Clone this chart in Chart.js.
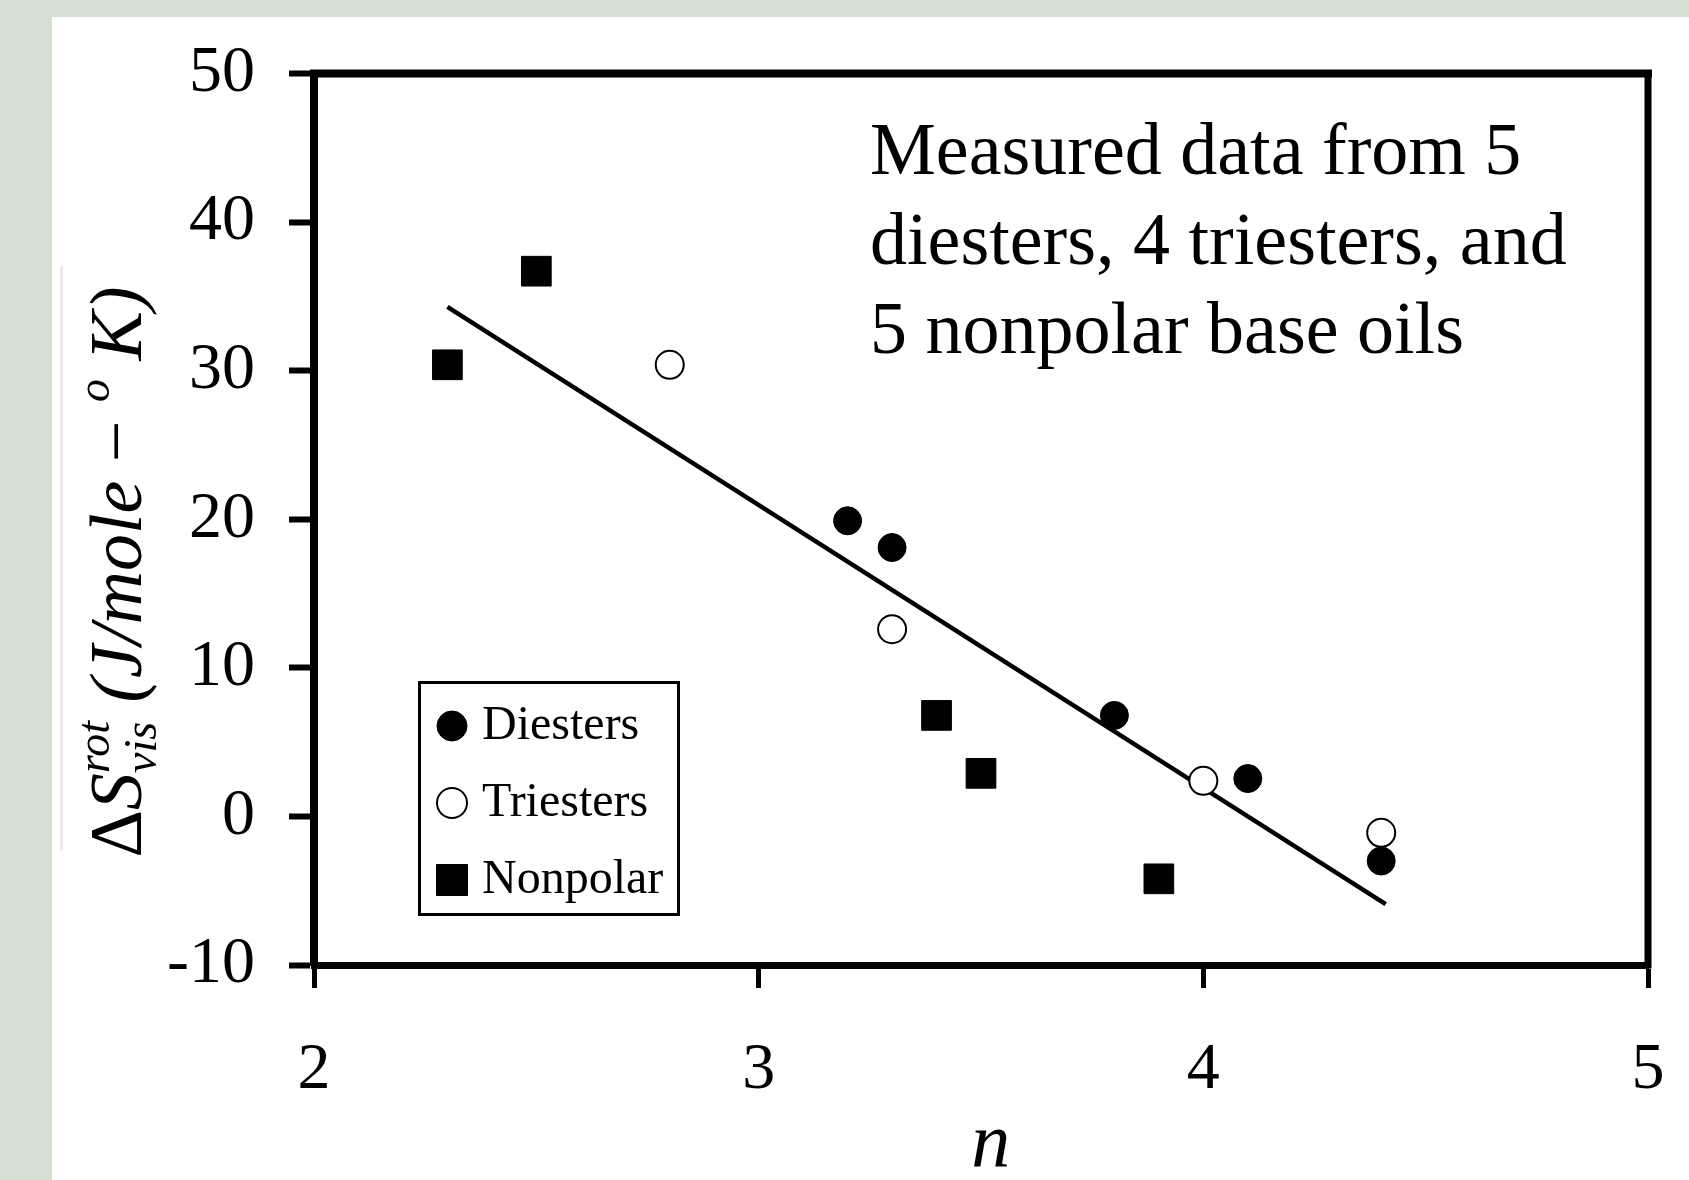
<!DOCTYPE html>
<html>
<head>
<meta charset="utf-8">
<script src="https://cdn.jsdelivr.net/npm/chart.js@4.4.1/dist/chart.umd.min.js"></script>
<style>
   html, body { margin: 0; padding: 0; background: #d6e0d2; }
   canvas { display: block; }
</style>
</head>
<body>
<canvas id="chart" width="1689" height="1180"></canvas>
<script>
// values
const diesterN = [3.2, 3.3, 3.8, 4.1, 4.4];
const diesterS = [19.9, 18.1, 6.8, 2.55, -3.0];
const triesterN = [2.8, 3.3, 4.0, 4.4];
const triesterS = [30.4, 12.6, 2.4, -1.1];
const nonpolarN = [2.3, 2.5, 3.4, 3.5, 3.9];
const nonpolarS = [30.4, 36.7, 6.8, 2.9, -4.2];
const fitN = [2.3, 4.41];
const fitS = [34.3, -5.9];

const seriesNames = ['Diesters', 'Triesters', 'Nonpolar'];
const xRange = [2, 5];
const yRange = [-10, 50];
const noteLines = ['Measured data from 5', 'diesters, 4 triesters, and', '5 nonpolar base oils'];

const SERIF = '"Liberation Serif", "Times New Roman", serif';

function toPoints(xs, ys) {
   return xs.map((x, i) => ({x: x, y: ys[i]}));
}

// green page, white slide panel
const backgroundPlugin = {
   id: 'background',
   beforeDraw(chart) {
      const ctx = chart.ctx;
      ctx.save();
      ctx.fillStyle = '#d6e0d2';
      ctx.fillRect(0, 0, chart.width, chart.height);
      ctx.fillStyle = '#ffffff';
      ctx.fillRect(52, 17, chart.width - 52, chart.height - 17);
      // faint leftover line from the source slide
      ctx.fillStyle = '#ececec';
      ctx.fillRect(60, 266, 3, 585);
      ctx.restore();
   }
};

// top and right sides of the plot box
const frameBox = {
   id: 'frameBox',
   afterDraw(chart) {
      const a = chart.chartArea;
      const ctx = chart.ctx;
      ctx.save();
      ctx.strokeStyle = '#000';
      ctx.lineCap = 'square';
      ctx.lineWidth = 8;
      ctx.beginPath();
      ctx.moveTo(a.left, a.top);
      ctx.lineTo(a.right, a.top);
      ctx.stroke();
      ctx.lineWidth = 7;
      ctx.beginPath();
      ctx.moveTo(a.right, a.top);
      ctx.lineTo(a.right, a.bottom);
      ctx.stroke();
      ctx.restore();
   }
};

// rotated y title with super/subscripts
const yTitle = {
   id: 'yTitle',
   afterDraw(chart) {
      const ctx = chart.ctx;
      const big = 74, small = 46;
      const parts = [
         {t: 'Δ', f: `${big}px ${SERIF}`, dy: 0},
         {t: 'S', f: `italic ${big}px ${SERIF}`, dy: 0},
         {t: 'rot', f: `italic ${small}px ${SERIF}`, dy: -32, under: {t: 'vis', dy: 15}},
         {t: ' (J/mole', f: `italic ${big}px ${SERIF}`, dy: 0},
         {t: ' − ', f: `${big}px ${SERIF}`, dy: 0},
         {t: 'o', f: `italic ${small}px ${SERIF}`, dy: -32},
         {t: ' K)', f: `italic ${big}px ${SERIF}`, dy: 0}
      ];
      ctx.save();
      let total = 0;
      parts.forEach(p => {
         ctx.font = p.f;
         p.w = ctx.measureText(p.t).width;
         if (p.under) p.w = Math.max(p.w, ctx.measureText(p.under.t).width);
         total += p.w;
      });
      ctx.translate(141, 572);
      ctx.rotate(-Math.PI / 2);
      ctx.fillStyle = '#000';
      ctx.textBaseline = 'alphabetic';
      ctx.textAlign = 'left';
      let x = -total / 2;
      parts.forEach(p => {
         ctx.font = p.f;
         ctx.fillText(p.t, x, p.dy);
         if (p.under) ctx.fillText(p.under.t, x, p.under.dy);
         x += p.w;
      });
      ctx.restore();
   }
};

const noteText = {
   id: 'noteText',
   afterDraw(chart) {
      const ctx = chart.ctx;
      ctx.save();
      ctx.font = `74px ${SERIF}`;
      ctx.fillStyle = '#000';
      ctx.textBaseline = 'alphabetic';
      noteLines.forEach((line, i) => {
         ctx.fillText(line, 870, 174 + i * 89.5);
      });
      ctx.restore();
   }
};

// boxed legend in the lower left of the plot
const boxLegend = {
   id: 'boxLegend',
   afterDraw(chart) {
      const ctx = chart.ctx;
      const items = chart.data.datasets.filter(d => d.inLegend);
      ctx.save();
      ctx.fillStyle = '#fff';
      ctx.fillRect(419, 682, 259, 232);
      ctx.strokeStyle = '#000';
      ctx.lineWidth = 3;
      ctx.strokeRect(419.5, 682.5, 259, 232);
      ctx.font = `48px ${SERIF}`;
      ctx.textBaseline = 'alphabetic';
      items.forEach((d, i) => {
         const cy = 726 + i * 77;
         const cx = 452;
         ctx.beginPath();
         if (d.pointStyle === 'rect') {
            ctx.rect(cx - 15.5, cy - 15.5, 31, 31);
         } else {
            ctx.arc(cx, cy, 15, 0, Math.PI * 2);
         }
         ctx.fillStyle = d.backgroundColor;
         ctx.fill();
         ctx.lineWidth = d.borderWidth;
         ctx.strokeStyle = d.borderColor;
         ctx.stroke();
         ctx.fillStyle = '#000';
         ctx.fillText(d.label, 482, cy + 13);
      });
      ctx.restore();
   }
};

new Chart(document.getElementById('chart'), {
   type: 'scatter',
   data: {
      datasets: [
         {
            label: seriesNames[0], inLegend: true,
            data: toPoints(diesterN, diesterS),
            pointStyle: 'circle', pointRadius: 14,
            backgroundColor: '#000', borderColor: '#000', borderWidth: 1
         },
         {
            label: seriesNames[1], inLegend: true,
            data: toPoints(triesterN, triesterS),
            pointStyle: 'circle', pointRadius: 14,
            backgroundColor: '#fff', borderColor: '#000', borderWidth: 2
         },
         {
            label: seriesNames[2], inLegend: true,
            data: toPoints(nonpolarN, nonpolarS),
            pointStyle: 'rect', pointRadius: 21,
            backgroundColor: '#000', borderColor: '#000', borderWidth: 1
         },
         {
            label: 'fit', type: 'line',
            data: toPoints(fitN, fitS),
            borderColor: '#000', borderWidth: 4.5,
            pointRadius: 0, fill: false, order: 5
         }
      ]
   },
   options: {
      responsive: false,
      animation: false,
      devicePixelRatio: 1,
      layout: { padding: { left: 0, top: 72, right: 41, bottom: 0 } },
      plugins: {
         legend: { display: false },
         tooltip: { enabled: false }
      },
      scales: {
         x: {
            type: 'linear',
            min: xRange[0], max: xRange[1],
            afterFit: s => {
               s.height = 215;
               // tick padding would otherwise widen the side margins
               s.paddingLeft = 0;
               s.paddingRight = 0;
            },
            ticks: {
               stepSize: 1, padding: 43, color: '#000',
               font: { family: SERIF, size: 66 }
            },
            grid: {
               drawOnChartArea: false, drawTicks: true,
               tickLength: 23, tickWidth: 5, tickColor: '#000'
            },
            border: { display: true, color: '#000', width: 7 },
            title: {
               display: true, text: ' n', color: '#000',
               font: { family: SERIF, size: 78, style: 'italic', lineHeight: 0.8 },
               padding: { top: 0, bottom: 2 }
            }
         },
         y: {
            type: 'linear',
            min: yRange[0], max: yRange[1],
            afterFit: s => { s.width = 314; },
            ticks: {
               stepSize: 10, padding: 34, color: '#000',
               font: { family: SERIF, size: 66 }
            },
            grid: {
               drawOnChartArea: false, drawTicks: true,
               tickLength: 25, tickWidth: 6, tickColor: '#000'
            },
            border: { display: true, color: '#000', width: 8 },
            title: { display: false }
         }
      }
   },
   plugins: [backgroundPlugin, frameBox, yTitle, noteText, boxLegend]
});
</script>
</body>
</html>
